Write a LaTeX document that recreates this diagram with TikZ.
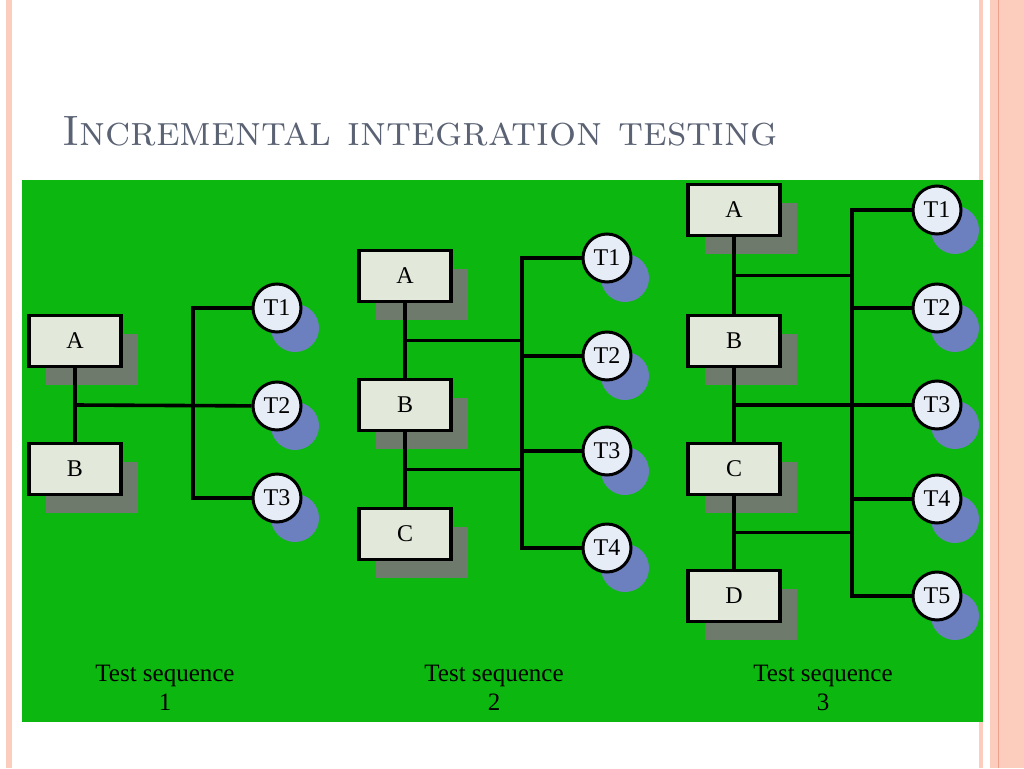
\documentclass[tikz,border=0pt]{standalone}
\usepackage{fontspec}
\newfontfamily\labelfont{Liberation Serif}
\usetikzlibrary{shadows,calc}
\definecolor{slidegreen}{RGB}{12,184,16}
\definecolor{boxfill}{RGB}{226,232,218}
\definecolor{boxshade}{RGB}{110,122,108}
\definecolor{testfill}{RGB}{230,237,247}
\definecolor{testshade}{RGB}{108,128,192}
\definecolor{titlegray}{RGB}{90,98,115}
\definecolor{edgepink}{RGB}{252,204,188}
\definecolor{edgeline}{RGB}{236,160,140}
\tikzset{
  modbox/.style={draw,line width=3.6pt,fill=boxfill,minimum width=92pt,minimum height=51pt,
    font=\labelfont\fontsize{24}{28}\selectfont,
    drop shadow={shadow xshift=17pt,shadow yshift=-18pt,fill=boxshade,opacity=1}},
  testcirc/.style={circle,draw,line width=3pt,fill=testfill,minimum size=48pt,inner sep=0pt,
    font=\labelfont\fontsize{24}{28}\selectfont,
    drop shadow={shadow xshift=18pt,shadow yshift=-20pt,fill=testshade,opacity=1}},
  link/.style={line width=3.6pt},
  seqlabel/.style={align=center,inner sep=0pt,font=\labelfont\fontsize{25}{29}\selectfont}
}
\begin{document}
\begin{tikzpicture}[x=1pt,y=-1pt]
\useasboundingbox (0,0) rectangle (1024,768);
% slide frame
\fill[white] (0,0) rectangle (1024,768);
\fill[edgepink] (6,0) rectangle (12,768);
\fill[edgepink] (979,0) rectangle (983,768);
\fill[edgepink] (990,0) rectangle (1024,768);
\draw[edgeline,line width=1pt] (998,0) -- (998,768);
\fill[slidegreen] (22,180) rectangle (983,722);
\node[anchor=base west,inner sep=0pt,text=titlegray,font=\fontsize{42.5}{48}\selectfont] (title) at (62,145) {\textsc{Incremental integration testing}};

% test sequence 1
\foreach \m/\y in {A/341,B/469} \node[modbox] (s1\m) at (75,\y) {\m};
\foreach \y [count=\n] in {308,406,498} \node[testcirc] (s1T\n) at (277,\y) {T\n};
\coordinate (s1bus) at (193,406);
\coordinate (s1j1) at ($(s1A)!.5!(s1B)$);
\draw[link] (s1A) -- (s1B);
\draw[link] (s1j1) -- (s1T2);
\draw[link] (s1T1) -| (s1bus) |- (s1T3);

% test sequence 2
\foreach \m/\y in {A/276,B/405,C/534} \node[modbox] (s2\m) at (405,\y) {\m};
\foreach \y [count=\n] in {258,356,451,548} \node[testcirc] (s2T\n) at (607,\y) {T\n};
\coordinate (s2bus) at (522,405);
\coordinate (s2j1) at ($(s2A)!.5!(s2B)$);
\coordinate (s2j2) at ($(s2B)!.5!(s2C)$);
\draw[link] (s2A) -- (s2B) -- (s2C);
\foreach \j in {1,2} \draw[link] (s2j\j) -- (s2j\j -| s2bus);
\draw[link] (s2T1) -| (s2bus) |- (s2T4);
\foreach \n in {2,3} \draw[link] (s2T\n) -- (s2T\n -| s2bus);

% test sequence 3
\foreach \m/\y in {A/210,B/341,C/469,D/596} \node[modbox] (s3\m) at (734,\y) {\m};
\foreach \y [count=\n] in {210,308,405,499,596} \node[testcirc] (s3T\n) at (937,\y) {T\n};
\coordinate (s3bus) at (852,405);
\coordinate (s3j1) at ($(s3A)!.5!(s3B)$);
\coordinate (s3j2) at ($(s3B)!.5!(s3C)$);
\coordinate (s3j3) at ($(s3C)!.5!(s3D)$);
\draw[link] (s3A) -- (s3B) -- (s3C) -- (s3D);
\foreach \j in {1,3} \draw[link] (s3j\j) -- (s3j\j -| s3bus);
\draw[link] (s3j2) -- (s3T3);
\draw[link] (s3T1) -| (s3bus) |- (s3T5);
\foreach \n in {2,4} \draw[link] (s3T\n) -- (s3T\n -| s3bus);

% labels
\foreach \x [count=\n] in {165,494,823} \node[seqlabel] (seq\n) at (\x,688) {Test sequence\\\n};
\end{tikzpicture}
\end{document}
